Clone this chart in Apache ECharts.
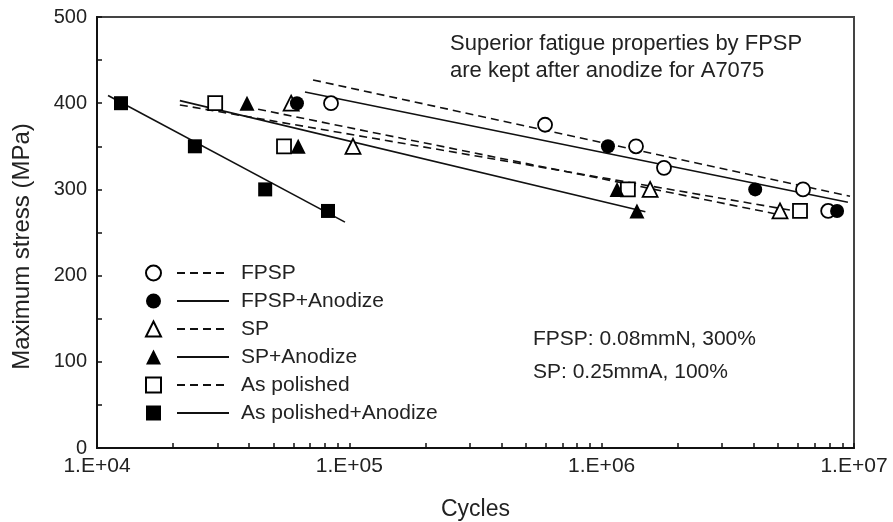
<!DOCTYPE html>
<html>
<head>
<meta charset="utf-8">
<script src="https://cdn.jsdelivr.net/npm/echarts@6/dist/echarts.min.js"></script>
<style>
html, body { margin: 0; padding: 0; background: #fff; }
#chart { width: 893px; height: 522px; }
</style>
</head>
<body>
<div id="chart"></div>
<script>
// 图例名称
var seriesNames = ['FPSP', 'FPSP+Anodize', 'SP', 'SP+Anodize', 'As polished', 'As polished+Anodize'];

// 测试点 (cycles, MPa)
var fpspCycles = [84600, 596500, 1368000, 1766000, 6280000, 7900000];
var fpspStress = [400, 375, 350, 325, 300, 275];
var fpspAnoCycles = [62000, 1059000, 4060000, 8570000];
var fpspAnoStress = [400, 350, 300, 275];
var spCycles = [58800, 103400, 1556000, 5090000];
var spStress = [400, 350, 300, 275];
var spAnoCycles = [39300, 62700, 1151000, 1380000];
var spAnoStress = [400, 350, 300, 275];
var polCycles = [29400, 55100, 1270000, 6110000];
var polStress = [400, 350, 300, 275];
var polAnoCycles = [12450, 24430, 46400, 82300];
var polAnoStress = [400, 350, 300, 275];

// 拟合线端点
var fpspFitCycles = [71800, 9640000];
var fpspFitStress = [427, 292];
var fpspAnoFitCycles = [66700, 9460000];
var fpspAnoFitStress = [413, 285];
var spFitCycles = [43500, 5000000];
var spFitStress = [393, 271];
var spAnoFitCycles = [21300, 1490000];
var spAnoFitStress = [403, 274];
var polFitCycles = [21300, 6110000];
var polFitStress = [398, 274];
var polAnoFitCycles = [11060, 96100];
var polAnoFitStress = [409, 262];

// 刻度
var xTickValues = [1e4, 2e4, 3e4, 4e4, 5e4, 6e4, 7e4, 8e4, 9e4,
	1e5, 2e5, 3e5, 4e5, 5e5, 6e5, 7e5, 8e5, 9e5,
	1e6, 2e6, 3e6, 4e6, 5e6, 6e6, 7e6, 8e6, 9e6, 1e7];
var xLabelValues = [1e4, 1e5, 1e6, 1e7];
var xLabelText = ['1.E+04', '1.E+05', '1.E+06', '1.E+07'];
var yTickValues = [0, 50, 100, 150, 200, 250, 300, 350, 400, 450, 500];
var yLabelValues = [0, 100, 200, 300, 400, 500];

var FONT = '"Liberation Sans", Arial, sans-serif';

function pairs(xs, ys) {
	var out = [];
	for (var i = 0; i < xs.length; i++) {
		out.push([xs[i], ys[i]]);
	}
	return out;
}

var myChart = echarts.init(document.getElementById('chart'));

// 散点: 空心先画, 实心后画
var markerDefs = [
	{ name: seriesNames[0], xs: fpspCycles, ys: fpspStress, symbol: 'circle', filled: false },
	{ name: seriesNames[2], xs: spCycles, ys: spStress, symbol: 'triangle', filled: false },
	{ name: seriesNames[4], xs: polCycles, ys: polStress, symbol: 'rect', filled: false },
	{ name: seriesNames[1], xs: fpspAnoCycles, ys: fpspAnoStress, symbol: 'circle', filled: true },
	{ name: seriesNames[3], xs: spAnoCycles, ys: spAnoStress, symbol: 'triangle', filled: true },
	{ name: seriesNames[5], xs: polAnoCycles, ys: polAnoStress, symbol: 'rect', filled: true }
];

var lineDefs = [
	{ name: seriesNames[0], xs: fpspFitCycles, ys: fpspFitStress, dashed: true },
	{ name: seriesNames[1], xs: fpspAnoFitCycles, ys: fpspAnoFitStress, dashed: false },
	{ name: seriesNames[2], xs: spFitCycles, ys: spFitStress, dashed: true },
	{ name: seriesNames[3], xs: spAnoFitCycles, ys: spAnoFitStress, dashed: false },
	{ name: seriesNames[4], xs: polFitCycles, ys: polFitStress, dashed: true },
	{ name: seriesNames[5], xs: polAnoFitCycles, ys: polAnoFitStress, dashed: false }
];

var series = [];
lineDefs.forEach(function(d) {
	series.push({
		name: d.name + ' fit',
		type: 'line',
		data: pairs(d.xs, d.ys),
		symbol: 'none',
		z: 1,
		silent: true,
		lineStyle: { color: '#111', width: 1.6, type: d.dashed ? [8, 5] : 'solid' },
		itemStyle: { color: '#111' }
	});
});
markerDefs.forEach(function(d, i) {
	series.push({
		name: d.name,
		type: 'scatter',
		data: pairs(d.xs, d.ys),
		symbol: d.symbol,
		symbolSize: d.symbol === 'triangle' ? 15 : 14,
		z: 3 + i,
		itemStyle: {
			color: d.filled ? '#000' : '#fff',
			borderColor: '#000',
			borderWidth: d.filled ? 0 : 1.8,
			opacity: 1
		}
	});
});

var legendIconNames = seriesNames.map(function(n) {
	var def = markerDefs.filter(function(d) { return d.name === n; })[0];
	return { name: n, icon: def.symbol };
});

var option = {
	animation: false,
	backgroundColor: '#fff',
	grid: {
		left: 97, right: 39, top: 17, bottom: 74,
		outerBoundsMode: 'none',
		show: true, borderColor: '#444', borderWidth: 2
	},
	legend: [{
		// 图标列
		orient: 'vertical',
		left: 145, top: 259,
		padding: 0,
		itemWidth: 15, itemHeight: 15, itemGap: 0,
		data: legendIconNames,
		formatter: function() { return ' '; },
		textStyle: { fontFamily: FONT, fontSize: 21, color: '#222', lineHeight: 28 },
		selectedMode: false
	}, {
		// 线型+文字
		orient: 'vertical',
		left: 176, top: 259,
		padding: 0,
		itemWidth: 52, itemHeight: 14, itemGap: 0,
		data: seriesNames.map(function(n) { return n + ' fit'; }),
		formatter: function(name) { return name.replace(' fit', ''); },
		itemStyle: { opacity: 0 },
		textStyle: { fontFamily: FONT, fontSize: 21, color: '#222', lineHeight: 28, padding: [0, 0, 0, 7] },
		selectedMode: false
	}],
	xAxis: {
		type: 'log',
		logBase: 10,
		min: 1e4, max: 1e7,
		name: 'Cycles',
		nameLocation: 'middle',
		nameGap: 50,
		nameTextStyle: { fontFamily: FONT, fontSize: 23, color: '#222' },
		axisLine: { lineStyle: { color: '#111', width: 2 } },
		axisTick: { inside: true, length: 5, customValues: xTickValues, lineStyle: { color: '#111', width: 1.5 } },
		axisLabel: {
			customValues: xLabelValues,
			margin: 8,
			fontFamily: FONT, fontSize: 21, color: '#222',
			formatter: function(v) {
				var idx = xLabelValues.indexOf(Math.round(v));
				return idx >= 0 ? xLabelText[idx] : '';
			}
		},
		splitLine: { show: false }
	},
	yAxis: {
		type: 'value',
		min: 0, max: 500,
		name: 'Maximum stress (MPa)',
		nameLocation: 'middle',
		nameGap: 63,
		nameTextStyle: { fontFamily: FONT, fontSize: 24, color: '#222', padding: [0, 28, 0, 0] },
		axisLine: { show: true, lineStyle: { color: '#111', width: 2 } },
		axisTick: { show: true, inside: true, length: 5, customValues: yTickValues, lineStyle: { color: '#111', width: 1.5 } },
		axisLabel: { customValues: yLabelValues, margin: 10, fontFamily: FONT, fontSize: 20, color: '#222' },
		splitLine: { show: false }
	},
	graphic: [
		{ type: 'text', left: 450, top: 33, style: { text: 'Superior fatigue properties by FPSP', font: '22px ' + FONT, fill: '#222' } },
		{ type: 'text', left: 450, top: 60, style: { text: 'are kept after anodize for A7075', font: '22px ' + FONT, fill: '#222' } },
		{ type: 'text', left: 533, top: 329, style: { text: 'FPSP: 0.08mmN, 300%', font: '21px ' + FONT, fill: '#222' } },
		{ type: 'text', left: 533, top: 362, style: { text: 'SP: 0.25mmA, 100%', font: '21px ' + FONT, fill: '#222' } }
	],
	series: series
};

myChart.setOption(option);
</script>
</body>
</html>
